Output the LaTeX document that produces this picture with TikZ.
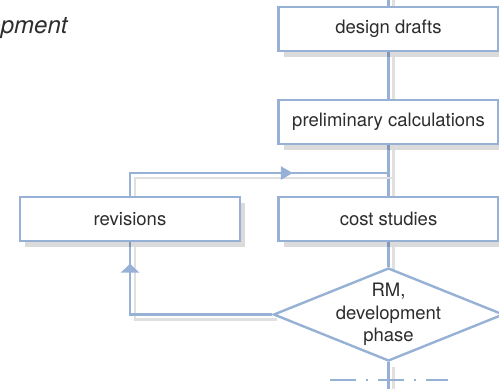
\documentclass[tikz,border=0pt]{standalone}
\usepackage{fontspec}
\setmainfont{TeX Gyre Heros}
\usetikzlibrary{arrows.meta,positioning,shapes.geometric,calc,shadows,decorations.markings}
\definecolor{myblue}{RGB}{150,177,213}
\definecolor{mytext}{RGB}{45,45,45}
\pgfdeclarelayer{background}
\pgfsetlayers{background,main}
\tikzset{
    line/.style   = {draw=myblue, line width=1.2pt,
            preaction={draw=black!12, line width=1.4pt,
                transform canvas={xshift=2.5pt,yshift=-2.5pt}}},
    tipmark/.style 2 args = {postaction={decorate},
            decoration={markings, mark=at position #1 with {\arrow{#2}}}},
    block/.style  = {draw=myblue, line width=1.2pt, fill=white,
            minimum width=110pt, minimum height=22pt,
            text=mytext, font=\fontsize{9.25}{11.25}\selectfont,
            drop shadow={shadow xshift=2.5pt, shadow yshift=-3pt,
                fill=black, opacity=0.14}},
    decision/.style = {diamond, draw=myblue, line width=1.2pt, fill=white,
            minimum width=115pt, minimum height=46.5pt, inner sep=0pt},
    phaseline/.style = {draw=myblue, line width=1pt,
            dash pattern=on 13pt off 5pt on 1pt off 5pt},
}

\begin{document}
\begin{tikzpicture}[x=0.5pt,y=-0.5pt]
    \useasboundingbox (0,0) rectangle (499,388);
    \clip (0,0) rectangle (499,388);
    % Nodes
    \node[anchor=base east, inner sep=0pt, text=mytext, font=\fontsize{12}{14}\itshape] (title) at (68,33) {development};
    \node[block] (drafts) at (388.5,29) {design drafts};
    \node[block] (prelim) at (388.5,122) {preliminary calculations};
    \node[block] (cost) at (388.5,219) {cost studies};
    \node[block] (revisions) at (130,219) {revisions};
    \node[decision] (rm) at (388.5,314.5) {};
    \node[align=center, text=mytext, font=\fontsize{9.25}{11.25}\selectfont] (rmtext) at (rm) {RM,\\development\\phase};
    \coordinate (top) at (388.5,-5);
    \coordinate (bottom) at (388.5,395);
    \coordinate (join) at (388.5,173);
    \coordinate (dl) at (330,380);
    \coordinate (dr) at (448,380);
    % Arrows
    \begin{pgfonlayer}{background}
        \draw[line] (top) -- (drafts);
        \draw[line] (drafts) -- (prelim);
        \draw[line] (prelim) -- (cost);
        \draw[line] (cost) -- (rm);
        \draw[line] (rm) -- (bottom);
        \draw[line, tipmark={0.9}{Triangle[length=4.5pt,width=9pt]}] (rm.west) -| (revisions.south);
        \draw[line, tipmark={0.66}{Triangle[length=6pt,width=6.5pt]}] (revisions.north) |- (join);
    \end{pgfonlayer}
    \draw[phaseline] (dl) -- (dr);
\end{tikzpicture}
\end{document}
